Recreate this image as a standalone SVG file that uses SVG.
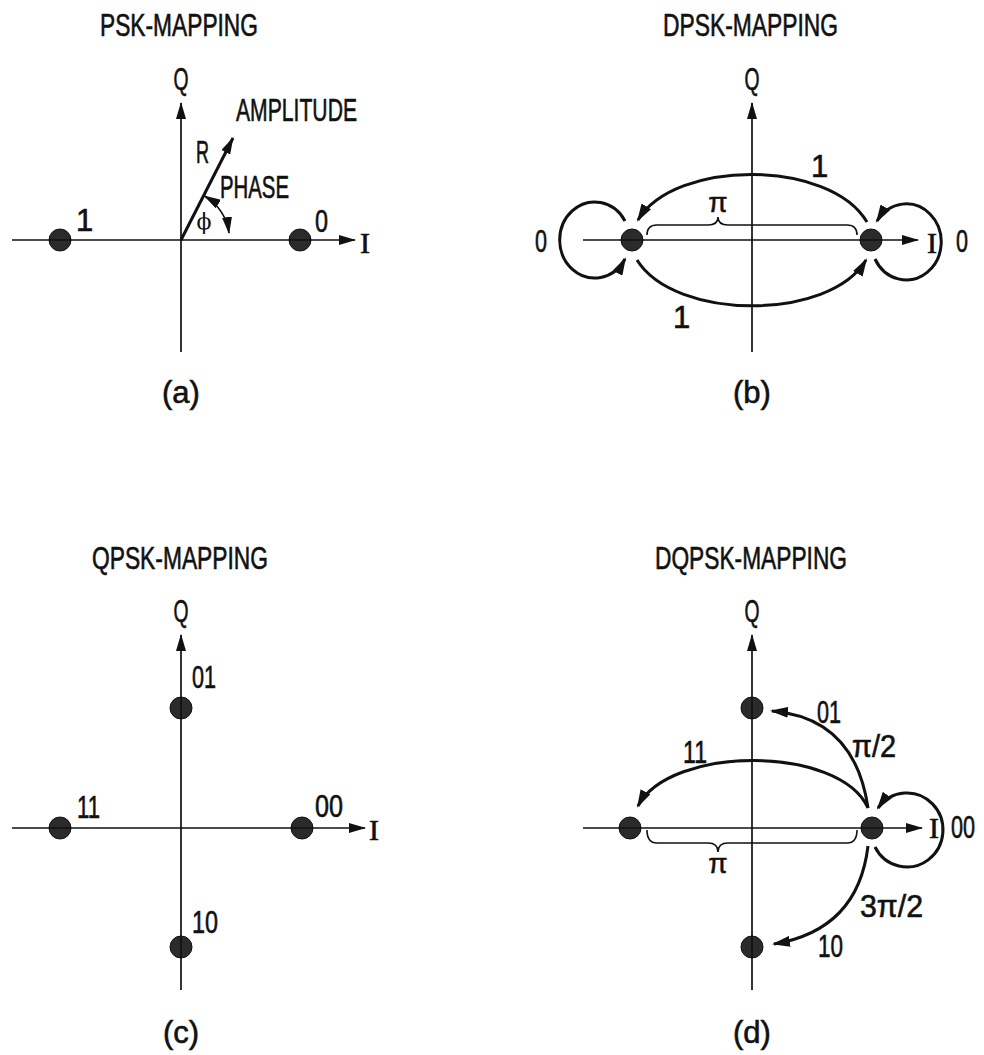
<svg xmlns="http://www.w3.org/2000/svg" width="984" height="1055" viewBox="0 0 984 1055">
<defs>
<style>
.t{font-family:"Liberation Sans",Arial,sans-serif;font-size:31px;fill:#111;stroke:#111;stroke-width:0.6}
.s{font-family:"Liberation Serif","Times New Roman",serif;font-size:30px;fill:#111;stroke:#111;stroke-width:0.6}
.g{font-family:"Liberation Sans",Arial,sans-serif;font-size:28px;fill:#111;stroke:#111;stroke-width:0.5}
.ax{stroke:#111;stroke-width:1.7;fill:none}
.arc{stroke:#111;stroke-width:3;fill:none}
.br{stroke:#111;stroke-width:1.6;fill:none}
.dot{fill:#2b2b2b;stroke:#111;stroke-width:1}
</style>
<marker id="ha" viewBox="0 0 17 10" refX="16" refY="5" markerWidth="17" markerHeight="10" markerUnits="userSpaceOnUse" orient="auto-start-reverse">
<path d="M0,0 L17,5 L0,10 z" fill="#111"/>
</marker>
<marker id="hb" viewBox="0 0 18 11" refX="16" refY="5.5" markerWidth="18" markerHeight="11" markerUnits="userSpaceOnUse" orient="auto-start-reverse">
<path d="M0,0 L18,5.5 L0,11 z" fill="#111"/>
</marker>
</defs>
<rect width="984" height="1055" fill="#fff"/>

<!-- Panel (a) -->
<g id="panel-a">
<text class="t" x="100" y="36" textLength="158" lengthAdjust="spacingAndGlyphs">PSK-MAPPING</text>
<text class="t" x="181" y="90" text-anchor="middle" textLength="15" lengthAdjust="spacingAndGlyphs">Q</text>
<text class="s" x="365" y="253" text-anchor="middle">I</text>
<text class="t" x="236" y="121" textLength="121" lengthAdjust="spacingAndGlyphs">AMPLITUDE</text>
<text class="t" x="196" y="163" textLength="13" lengthAdjust="spacingAndGlyphs">R</text>
<text class="t" x="220" y="198" textLength="69" lengthAdjust="spacingAndGlyphs">PHASE</text>
<text x="204" y="229" text-anchor="middle" font-family="'DejaVu Serif','Liberation Serif',serif" font-size="22" fill="#111">ϕ</text>
<text class="t" x="76" y="231">1</text>
<text class="t" x="315" y="232" textLength="13" lengthAdjust="spacingAndGlyphs">0</text>
<text class="t" x="181" y="403" text-anchor="middle">(a)</text>
<g id="a-dot-1"><circle class="dot" cx="60" cy="240" r="11"/></g>
<g id="a-dot-0"><circle class="dot" cx="300" cy="240" r="11"/></g>
</g>

<!-- Panel (b) -->
<g id="panel-b">
<text class="t" x="663" y="36" textLength="175" lengthAdjust="spacingAndGlyphs">DPSK-MAPPING</text>
<text class="t" x="752" y="90" text-anchor="middle" textLength="15" lengthAdjust="spacingAndGlyphs">Q</text>
<text class="s" x="932" y="253" text-anchor="middle">I</text>
<text class="t" x="962" y="252" text-anchor="middle" textLength="12" lengthAdjust="spacingAndGlyphs">0</text>
<text class="t" x="541" y="252" text-anchor="middle" textLength="12" lengthAdjust="spacingAndGlyphs">0</text>
<text class="t" x="811" y="177">1</text>
<text class="t" x="673" y="328">1</text>
<text class="g" x="718" y="212" text-anchor="middle">π</text>
<text class="t" x="752" y="403" text-anchor="middle">(b)</text>
<g id="b-dot-left"><circle class="dot" cx="632" cy="240" r="11"/></g>
<g id="b-dot-right"><circle class="dot" cx="871" cy="240" r="11"/></g>
</g>

<!-- Panel (c) -->
<g id="panel-c">
<text class="t" x="92" y="569" textLength="176" lengthAdjust="spacingAndGlyphs">QPSK-MAPPING</text>
<text class="t" x="181" y="622" text-anchor="middle" textLength="15" lengthAdjust="spacingAndGlyphs">Q</text>
<text class="s" x="374" y="840" text-anchor="middle">I</text>
<text class="t" x="192" y="688" textLength="24" lengthAdjust="spacingAndGlyphs">01</text>
<text class="t" x="77" y="818" textLength="23" lengthAdjust="spacingAndGlyphs">11</text>
<text class="t" x="315" y="817" textLength="28" lengthAdjust="spacingAndGlyphs">00</text>
<text class="t" x="192" y="933" textLength="26" lengthAdjust="spacingAndGlyphs">10</text>
<text class="t" x="181" y="1043" text-anchor="middle">(c)</text>
<g id="c-dot-01"><circle class="dot" cx="181" cy="708" r="11"/></g>
<g id="c-dot-11"><circle class="dot" cx="60" cy="828" r="11"/></g>
<g id="c-dot-00"><circle class="dot" cx="302" cy="828" r="11"/></g>
<g id="c-dot-10"><circle class="dot" cx="181" cy="947" r="11"/></g>
</g>

<!-- Panel (d) -->
<g id="panel-d">
<text class="t" x="655" y="569" textLength="192" lengthAdjust="spacingAndGlyphs">DQPSK-MAPPING</text>
<text class="t" x="752" y="622" text-anchor="middle" textLength="15" lengthAdjust="spacingAndGlyphs">Q</text>
<text class="s" x="934" y="838" text-anchor="middle">I</text>
<text class="t" x="951" y="838" textLength="24" lengthAdjust="spacingAndGlyphs">00</text>
<text class="t" x="817" y="723" textLength="24" lengthAdjust="spacingAndGlyphs">01</text>
<text class="t" x="852" y="757" textLength="44" lengthAdjust="spacingAndGlyphs">π/2</text>
<text class="t" x="683" y="763" textLength="24" lengthAdjust="spacingAndGlyphs">11</text>
<text class="t" x="860" y="917" textLength="63" lengthAdjust="spacingAndGlyphs">3π/2</text>
<text class="t" x="818" y="957" textLength="25" lengthAdjust="spacingAndGlyphs">10</text>
<text class="g" x="718" y="873" text-anchor="middle">π</text>
<text class="t" x="752" y="1043" text-anchor="middle">(d)</text>
<g id="d-dot-01"><circle class="dot" cx="752" cy="708" r="11"/></g>
<g id="d-dot-11"><circle class="dot" cx="630" cy="828" r="11"/></g>
<g id="d-dot-00"><circle class="dot" cx="872" cy="828" r="11"/></g>
<g id="d-dot-10"><circle class="dot" cx="752" cy="947" r="11"/></g>
</g>

<!-- Connectors -->
<g id="connectors">
<!-- (a) -->
<path class="ax" d="M181 352 L181 103" marker-end="url(#ha)"/>
<path class="ax" d="M12 240 L355 240" marker-end="url(#ha)"/>
<path class="arc" stroke-width="2.2" d="M181 240 L233 138" marker-end="url(#ha)"/>
<path class="ax" stroke-width="2" d="M204.5 196 A50 50 0 0 1 229 233" marker-start="url(#ha)" marker-end="url(#ha)"/>
<!-- (b) -->
<path class="ax" d="M752 352 L752 103" marker-end="url(#ha)"/>
<path class="ax" d="M583 240 L918 240" marker-end="url(#ha)"/>
<path class="arc" d="M867 222 C830 159 675 159 638 220" marker-end="url(#hb)"/>
<path class="arc" d="M637 260 C675 321 830 321 866 260" marker-end="url(#hb)"/>
<path class="arc" d="M625 221 A35 38 0 1 0 625 259" marker-end="url(#hb)"/>
<path class="arc" d="M875 259 A35 38 0 1 0 877 221" marker-end="url(#hb)"/>
<path class="br" d="M647 235 Q647 225 657 225 L708 225 Q718 225 718 217 Q718 225 728 225 L847 225 Q857 225 857 235"/>
<!-- (c) -->
<path class="ax" d="M181 990 L181 635" marker-end="url(#ha)"/>
<path class="ax" d="M12 828 L365 828" marker-end="url(#ha)"/>
<!-- (d) -->
<path class="ax" d="M752 990 L752 635" marker-end="url(#ha)"/>
<path class="ax" d="M583 828 L922 828" marker-end="url(#ha)"/>
<path class="arc" d="M868 808 Q855 718 772 711" marker-end="url(#hb)"/>
<path class="arc" d="M868 808 C840 745 670 745 638 806" marker-end="url(#hb)"/>
<path class="arc" d="M875 847 A36 37 0 1 0 878 808" marker-end="url(#hb)"/>
<path class="arc" d="M868 846 Q858 930 774 944" marker-end="url(#hb)"/>
<path class="br" d="M647 830 Q647 843 657 843 L708 843 Q718 843 718 852 Q718 843 728 843 L847 843 Q857 843 857 830"/>
</g>
</svg>
